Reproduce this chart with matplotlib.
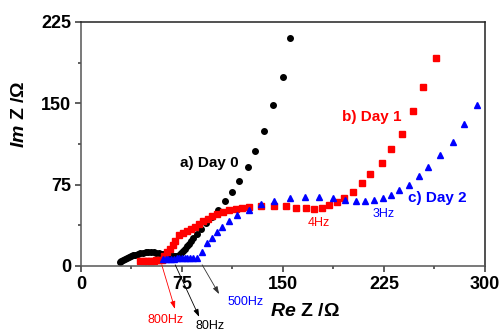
import matplotlib
matplotlib.use('Agg')
import matplotlib.pyplot as plt
from matplotlib.ticker import MultipleLocator

plt.rcParams['font.family'] = ['Liberation Sans', 'DejaVu Sans']
plt.rcParams['mathtext.fontset'] = 'custom'
plt.rcParams['mathtext.rm'] = 'Liberation Sans:bold'
plt.rcParams['mathtext.bfit'] = 'Liberation Sans:italic:bold'
plt.rcParams['mathtext.it'] = 'Liberation Sans:italic:bold'

# Day 0 (black circles)
day0_re = [29, 30, 31, 32.5, 34, 35.5, 37, 38.5, 40, 42, 44, 46, 48, 50, 52, 54, 56, 58, 60, 62,
           63.5, 65, 66.5, 68, 69.5, 71, 72.5, 74, 75.5, 77, 78.5, 80, 81.5, 83.5, 85.9, 89.5,
           93.2, 97.5, 101.5, 107, 111.8, 117.5, 124.2, 129.4, 135.6, 142.6, 150, 155]
day0_im = [3.5, 4.5, 5.5, 6.5, 7.5, 8.3, 9.1, 9.8, 10.4, 11.1, 11.7, 12.1, 12.4, 12.6, 12.6, 12.5,
           12.2, 11.8, 11.3, 10.7, 10.1, 9.5, 9.0, 8.7, 8.7, 9.2, 10.5, 12, 14, 16, 18.5, 20.5, 23,
           26, 29, 34, 39.4, 45.5, 51.7, 60, 68, 78.7, 91, 106.4, 124.2, 148, 174, 210]

# Day 1 (red squares)
day1_re = [44, 46, 48, 50, 52, 54, 56, 58, 60, 62, 64, 66, 68, 70, 72.8, 75.8, 79, 82, 84.6, 88,
           90.8, 94, 97.5, 101, 105.6, 110, 114.8, 119.5, 124.7, 134, 143.5, 152, 160, 167.5, 173,
           178.9, 183.9, 190, 195.5, 202, 209, 215, 223.5, 230, 238.5, 246.5, 254, 264]
day1_im = [4.6, 4.7, 4.8, 4.9, 5, 5, 5.1, 5.2, 5.5, 9, 12.5, 16, 19.5, 23, 28.6, 30.6, 32.6, 34.5,
           36.3, 39, 41.8, 43.5, 46, 48, 50, 51.5, 52.9, 53.5, 54.5, 55.3, 55.3, 55, 53.8, 53.2, 52.6,
           53.5, 56.3, 58.7, 63, 68.6, 76.3, 85, 95, 108, 121.8, 143, 165.4, 192]

# Day 2 (blue triangles)
day2_re = [61, 63, 65, 67, 69, 71, 73, 75, 77, 79, 81, 83, 86, 89.6, 93.3, 97, 100.7, 105, 110,
           116, 124.5, 133.4, 143.5, 155, 166.3, 177, 187.3, 196, 204, 211, 217.5, 224, 230.4,
           236.3, 243.5, 251, 258, 266.5, 276, 284.6, 294]
day2_im = [6.5, 6.6, 6.7, 6.8, 6.8, 6.9, 7, 7, 7, 7, 7, 7, 7.2, 13, 21, 25.5, 31.7, 36.3, 41.8,
           47, 51.7, 57, 60, 63, 64, 63.7, 62.4, 61, 60, 59.5, 61, 62.4, 65, 70, 75, 83.3, 91.6,
           102, 114, 130.7, 148.5]

x_ticks = [0, 75, 150, 225, 300]
y_ticks = [0, 75, 150, 225]

fig = plt.figure(figsize=(5.03, 3.32), dpi=100)
ax = fig.add_axes([0.161, 0.199, 0.803, 0.735])

ax.plot(day0_re, day0_im, 'o', color='black', markersize=4, clip_on=False)
ax.plot(day1_re, day1_im, 's', color='#ff0000', markersize=4.5, clip_on=False)
ax.plot(day2_re, day2_im, '^', color='#0000ff', markersize=5, clip_on=False)

ax.set_xlim(0, 300)
ax.set_ylim(0, 225)
ax.set_xticks(x_ticks)
ax.set_yticks(y_ticks)
ax.xaxis.set_minor_locator(MultipleLocator(37.5))
ax.yaxis.set_minor_locator(MultipleLocator(37.5))
ax.tick_params(which='both', direction='out', top=False, right=False, width=1.1, color='#333333')
ax.tick_params(which='major', length=4, labelsize=13, pad=3)
ax.tick_params(which='minor', length=2.5)
for lab in ax.get_xticklabels() + ax.get_yticklabels():
    lab.set_fontweight('bold')
for s in ax.spines.values():
    s.set_linewidth(1.1)
    s.set_color('#555555')
ax.spines['top'].set_color('#222222')
ax.spines['right'].set_color('#222222')

ax.set_xlabel(r'$\mathbfit{Re}$ Z /Ω', fontsize=14, fontweight='bold')
ax.set_ylabel(r'$\mathbfit{Im}$ Z /Ω', fontsize=14, fontweight='bold')
ax.xaxis.set_label_coords(0.555, -0.15)
ax.yaxis.set_label_coords(-0.13, 0.62)

ax.text(117, 95, 'a) Day 0', fontsize=11, fontweight='bold', color='black', ha='right', va='center')
ax.text(194, 137.5, 'b) Day 1', fontsize=11, fontweight='bold', color='#ff0000', ha='left', va='center')
ax.text(243, 62.5, 'c) Day 2', fontsize=11, fontweight='bold', color='#0000ff', ha='left', va='center')
ax.text(177, 39.4, '4Hz', fontsize=9, color='#ff0000', ha='center', va='center')
ax.text(224.7, 48, '3Hz', fontsize=9, color='#0000ff', ha='center', va='center')

# frequency labels below the axis with arrows
ax.text(63.1, -49.8, '800Hz', fontsize=9, color='#ff0000', ha='center', va='center', clip_on=False)
ax.text(95.8, -55.3, '80Hz', fontsize=9, color='black', ha='center', va='center', clip_on=False)
ax.text(122.5, -33.5, '500Hz', fontsize=9, color='#0000ff', ha='center', va='center', clip_on=False)
arrow_kw = dict(arrowstyle='-|>,head_length=0.45,head_width=0.15', lw=0.6, shrinkA=0, shrinkB=0)
ax.annotate('', xy=(69.8, -39.7), xytext=(60, 1), annotation_clip=False,
            arrowprops=dict(color='#ff0000', **arrow_kw))
ax.annotate('', xy=(87.8, -47), xytext=(70, 1), annotation_clip=False,
            arrowprops=dict(color='black', **arrow_kw))
ax.annotate('', xy=(102.6, -26), xytext=(90, 1), annotation_clip=False,
            arrowprops=dict(color='#333333', **arrow_kw))

fig.savefig('out.png', dpi=100)
